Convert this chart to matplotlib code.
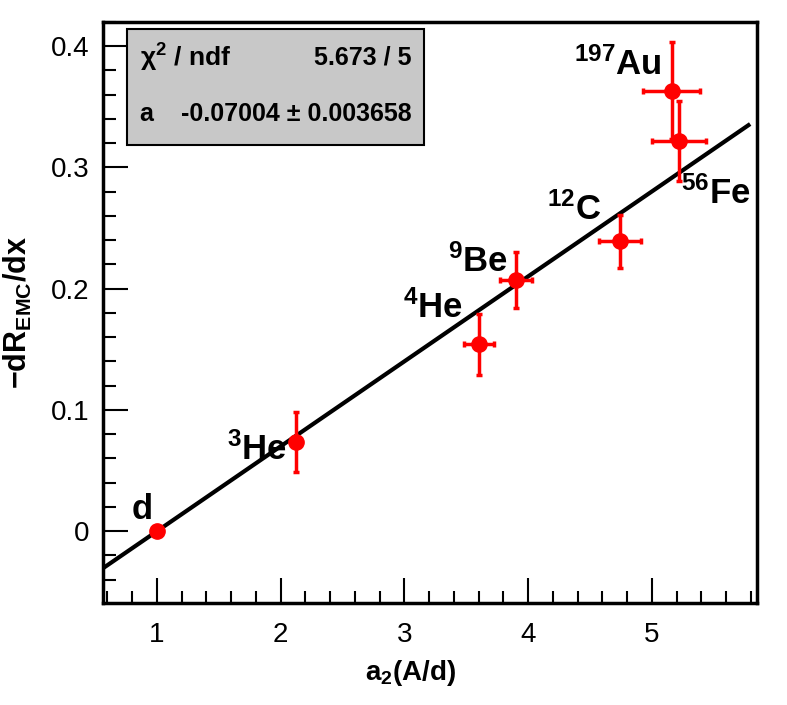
import matplotlib
matplotlib.use("Agg")
import matplotlib.pyplot as plt
from matplotlib.ticker import MultipleLocator
import numpy as np

plt.rcParams['font.family'] = ['Liberation Sans', 'DejaVu Sans']
plt.rcParams['mathtext.fontset'] = 'custom'
plt.rcParams['mathtext.rm'] = 'Liberation Sans'
plt.rcParams['mathtext.it'] = 'Liberation Sans:italic'
plt.rcParams['mathtext.bf'] = 'Liberation Sans:bold'

# nuclei, a2 and slope of the EMC effect
names = [r"$\mathbf{d}$", r"$\mathbf{{}^{3}He}$", r"$\mathbf{{}^{4}He}$", r"$\mathbf{{}^{9}Be}$",
         r"$\mathbf{{}^{12}C}$", r"$\mathbf{{}^{197}Au}$", r"$\mathbf{{}^{56}Fe}$"]
a2 = [1.0, 2.12, 3.60, 3.90, 4.74, 5.16, 5.22]
a2_err = [0.0, 0.0, 0.12, 0.13, 0.17, 0.23, 0.22]
slope = [0.0, 0.0735, 0.154, 0.207, 0.239, 0.363, 0.322]
slope_err = [0.0, 0.025, 0.025, 0.023, 0.022, 0.040, 0.033]
# right edges of the nucleus labels
label_x = [0.96, 2.05, 3.47, 3.84, 4.59, 5.08, 5.80]
label_y = [0.010, 0.059, 0.176, 0.214, 0.257, 0.376, 0.270]

fit_a = -0.07004
fit_a_err = 0.003658
chi2, ndf = 5.673, 5

fig = plt.figure(figsize=(7.87, 7.05), dpi=100)
ax = fig.add_axes([0.131, 0.145, 0.831, 0.824])

xmin, xmax = 0.565, 5.85
ax.set_xlim(xmin, xmax)
ax.set_ylim(-0.059, 0.42)

xf = np.array([xmin, 5.78])
ax.plot(xf, -fit_a * (xf - 1.0), color='black', lw=3, zorder=2)

ax.errorbar(a2, slope, xerr=a2_err, yerr=slope_err, fmt='o', color='red',
            ms=11, elinewidth=2.5, capsize=2, capthick=2.5, zorder=3)

for n, lx, ly in zip(names, label_x, label_y):
    ax.text(lx, ly, n, fontsize=25, ha='right', va='baseline')

ax.xaxis.set_major_locator(MultipleLocator(1))
ax.xaxis.set_minor_locator(MultipleLocator(0.2))
ax.yaxis.set_minor_locator(MultipleLocator(0.02))
ax.set_yticks([0, 0.1, 0.2, 0.3, 0.4])
ax.set_yticklabels(["0", "0.1", "0.2", "0.3", "0.4"])
ax.tick_params(which='both', direction='in', width=1.5, labelsize=20)
ax.tick_params(which='major', length=18, pad=10)
ax.tick_params(axis='x', which='major', pad=14)
ax.tick_params(which='minor', length=9)
for s in ax.spines.values():
    s.set_linewidth(2.5)

ax.set_xlabel(r"$\mathbf{a_{2}(A/d)}$", fontsize=20)
ax.xaxis.set_label_coords(0.47, -0.095)
ax.set_ylabel(r"$\mathbf{-dR_{EMC}/dx}$", fontsize=22, labelpad=12)

# stats box
bx0, by0, bw, bh = 0.036, 0.788, 0.455, 0.2
box = plt.Rectangle((bx0, by0), bw, bh, transform=ax.transAxes, facecolor='#c8c8c8',
                    edgecolor='black', lw=1.5, zorder=4)
ax.add_patch(box)
ax.text(bx0 + 0.02, by0 + 0.75 * bh, "\u03c7$^{\\mathbf{2}}$ / ndf", transform=ax.transAxes,
        fontsize=19, fontweight='bold', va='center', zorder=5)
ax.text(bx0 + bw - 0.02, by0 + 0.75 * bh, f"{chi2:.3f} / {ndf}", transform=ax.transAxes,
        fontsize=18, fontweight='bold', va='center', ha='right', zorder=5)
ax.text(bx0 + 0.02, by0 + 0.27 * bh, "a", transform=ax.transAxes,
        fontsize=18, fontweight='bold', va='center', zorder=5)
ax.text(bx0 + bw - 0.02, by0 + 0.27 * bh, f"{fit_a:.5f} \u00b1 {fit_a_err:.6f}",
        transform=ax.transAxes, fontsize=18, fontweight='bold', va='center',
        ha='right', zorder=5)

fig.savefig("out.png", dpi=100)
